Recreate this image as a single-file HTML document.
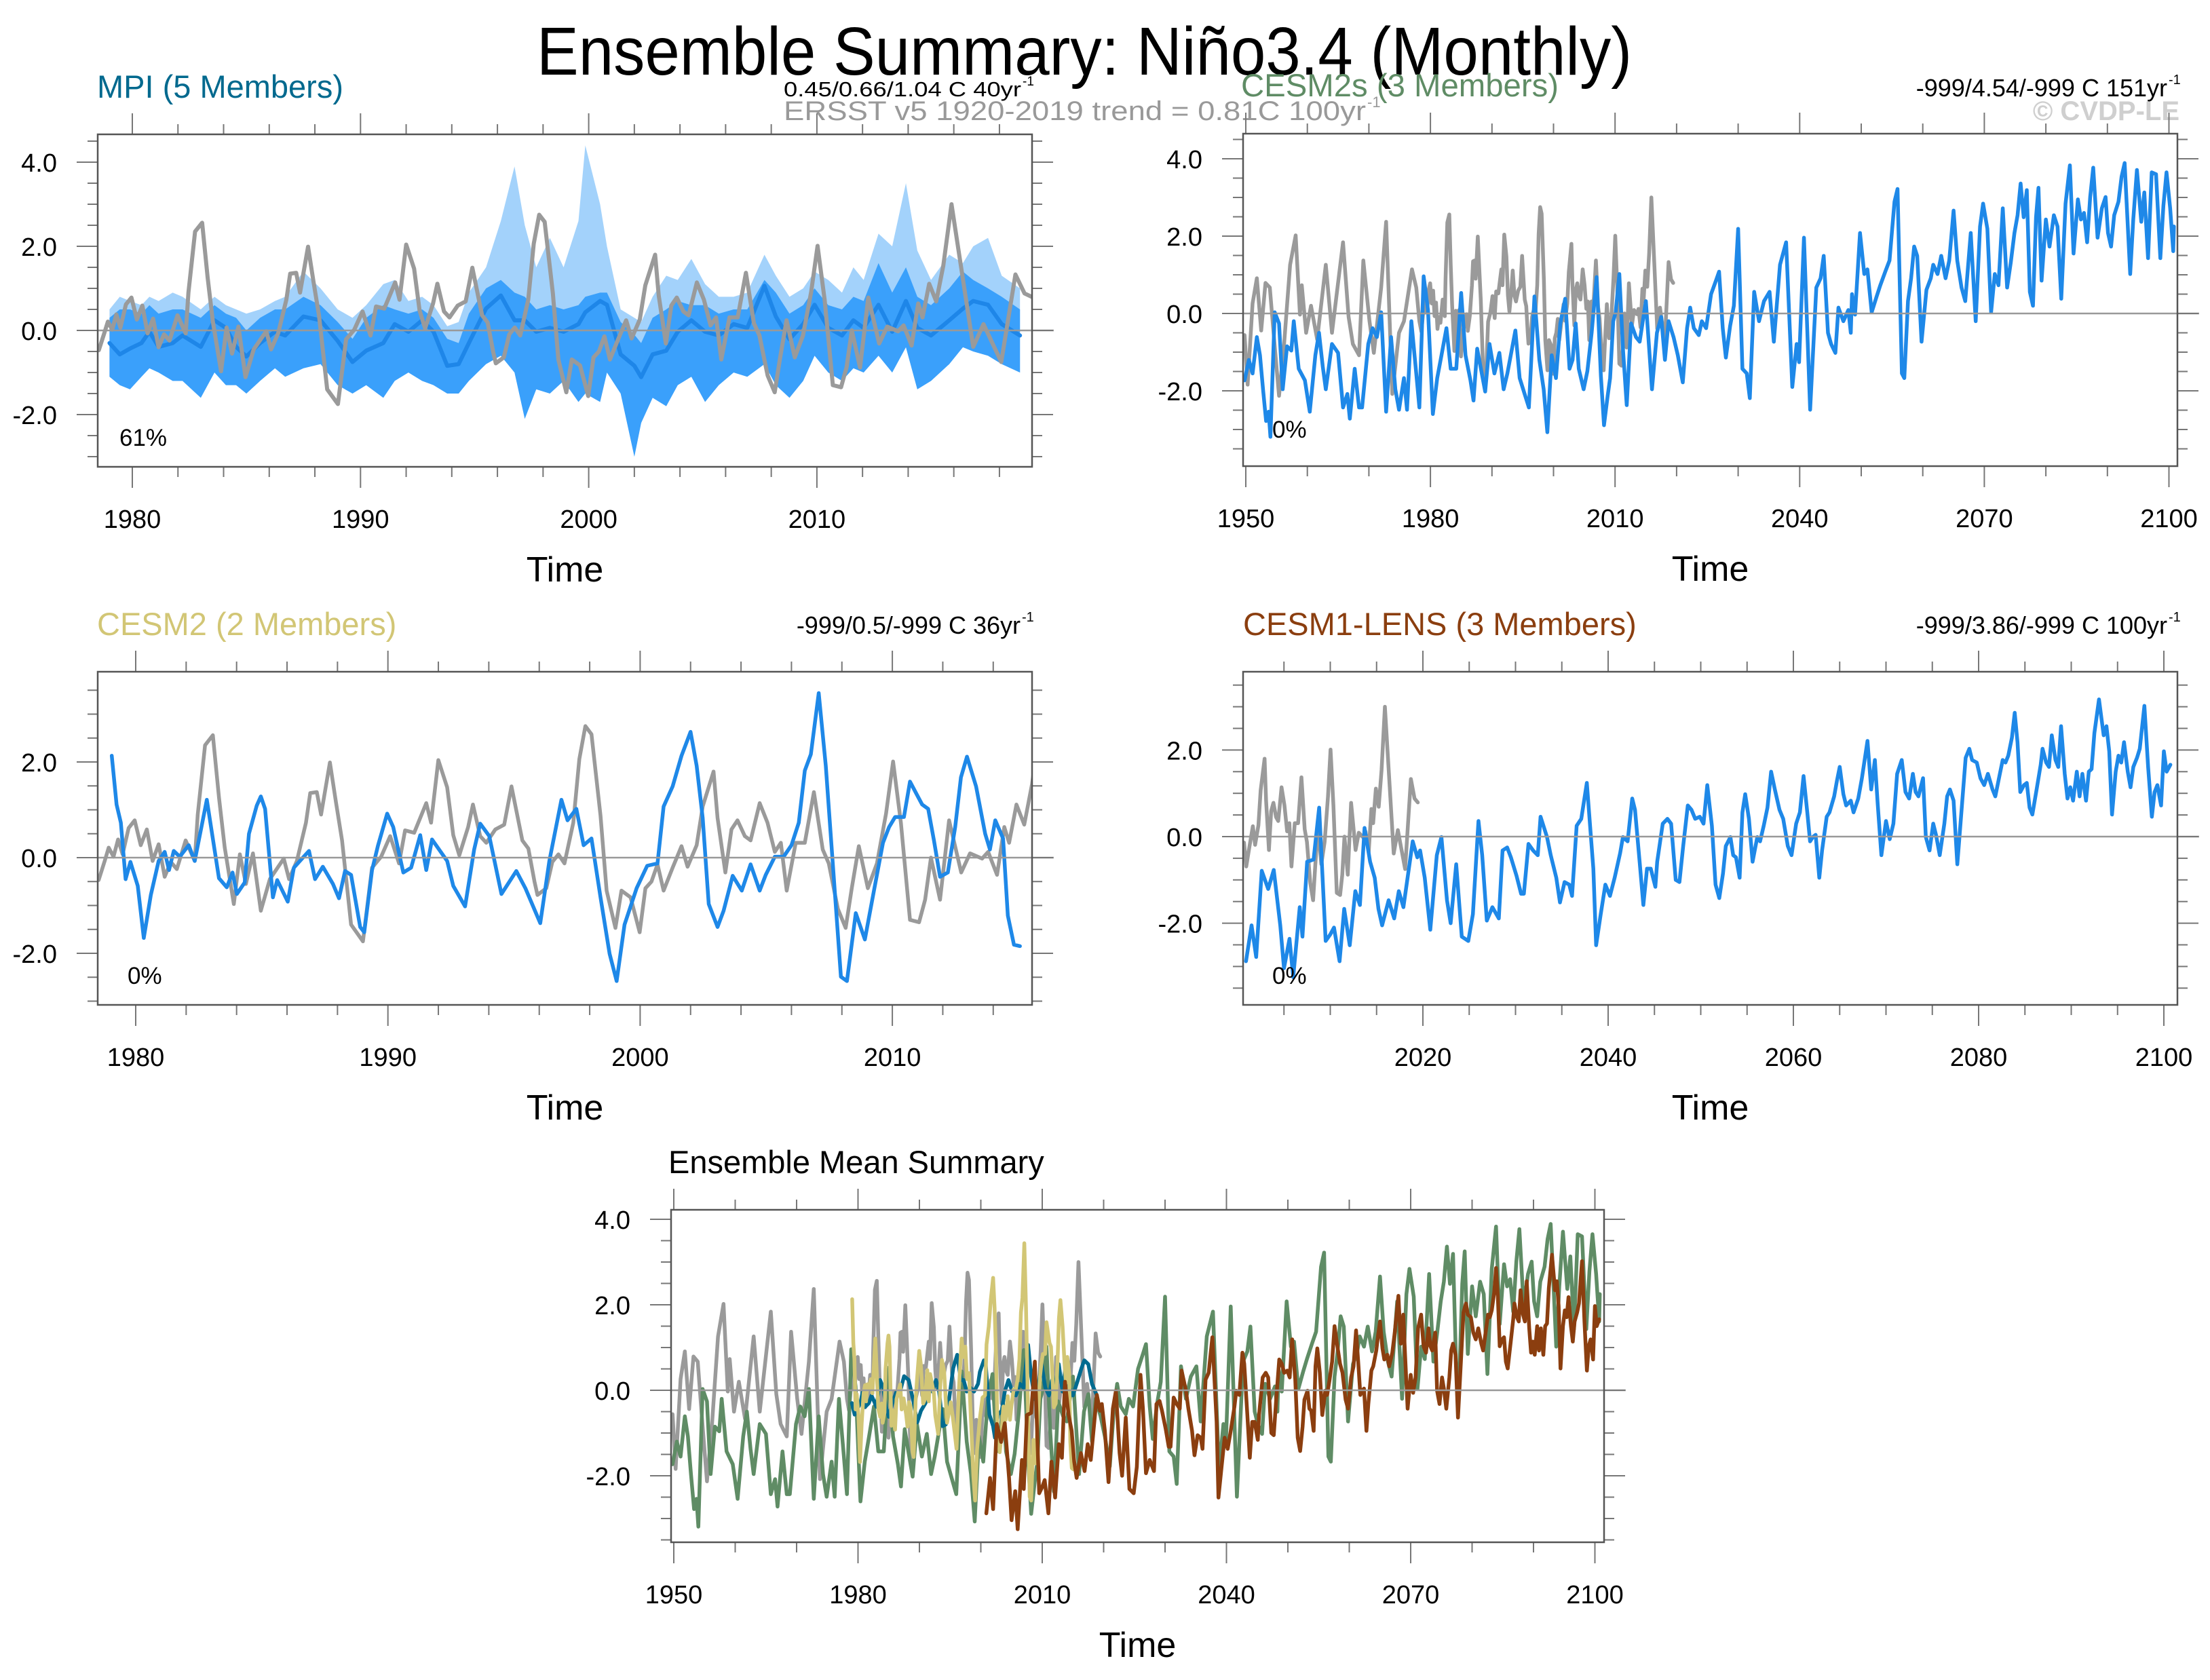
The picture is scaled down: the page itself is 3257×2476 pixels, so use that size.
<!DOCTYPE html>
<html><head><meta charset="utf-8"><title>Ensemble Summary: Niño3.4 (Monthly)</title>
<style>
html,body{margin:0;padding:0;background:#fff;}
svg{display:block;font-family:"Liberation Sans",Arial,sans-serif;}
</style></head>
<body>
<svg id="fig" xmlns="http://www.w3.org/2000/svg" width="3257" height="2476" viewBox="0 0 3257 2476">
<rect x="0" y="0" width="3257" height="2476" fill="#fff"/>
<text x="1598" y="110" font-size="100" text-anchor="middle" textLength="1614" lengthAdjust="spacingAndGlyphs">Ensemble Summary: Niño3.4 (Monthly)</text>

<text x="143" y="144" font-size="47" fill="#00698e">MPI (5 Members)</text>
<text x="1155" y="142" font-size="31" textLength="350" lengthAdjust="spacingAndGlyphs">0.45/0.66/1.04 C 40yr</text>
<text x="1507" y="126" font-size="19">-1</text>
<text x="1155" y="177" font-size="40" fill="#999" textLength="858" lengthAdjust="spacingAndGlyphs">ERSST v5 1920-2019 trend = 0.81C 100yr</text>
<text x="2015" y="158" font-size="22" fill="#999">-1</text>

<text x="1829" y="142" font-size="47" fill="#5f8c65" textLength="468" lengthAdjust="spacingAndGlyphs">CESM2s (3 Members)</text>
<text x="3194" y="142" font-size="36" text-anchor="end">-999/4.54/-999 C 151yr</text>
<text x="3196" y="124" font-size="20">-1</text>
<text x="3212" y="177" font-size="40" font-weight="bold" fill="#cfcfcf" text-anchor="end">© CVDP-LE</text>

<text x="143" y="936" font-size="47" fill="#d2c675">CESM2 (2 Members)</text>
<text x="1504" y="934" font-size="36" text-anchor="end">-999/0.5/-999 C 36yr</text>
<text x="1506" y="916" font-size="20">-1</text>

<text x="1832" y="936" font-size="47" fill="#8b3e0f">CESM1-LENS (3 Members)</text>
<text x="3194" y="934" font-size="36" text-anchor="end">-999/3.86/-999 C 100yr</text>
<text x="3196" y="916" font-size="20">-1</text>

<text x="985" y="1729" font-size="47">Ensemble Mean Summary</text>
</svg>
<script>
// ---------- DATA ----------
const ersstYear=[1949.8,1950.3,1951.1,1951.8,1952.5,1953.2,1953.9,1954.7,1955.4,1956.2,1957.2,1958.1,1958.8,1959.1,1959.8,1960.6,1961.6,1963.0,1964.0,1965.8,1966.7,1967.4,1968.4,1969.1,1970.1,1970.8,1972.0,1972.8,1973.8,1974.9,1975.7,1977.0,1977.7,1978.2,
1978.53,1978.77,1978.93,1979.12,1979.3,1979.48,1979.72,1979.96,1980.2,1980.44,1980.67,1980.91,1981.15,1981.39,1981.63,1981.98,1982.34,1982.46,1982.75,1983.06,1983.3,1983.53,1983.89,1984.13,1984.37,1984.65,1984.96,1985.32,1985.87,1986.08,1986.39,1986.75,1986.92,1987.18,1987.35,1987.7,1987.94,1988.18,1988.54,1989.01,1989.37,1989.73,1990.09,1990.44,1990.68,1991.04,1991.52,1991.71,1992.0,1992.35,1992.59,1992.83,1993.18,1993.37,1993.66,1993.9,1994.26,1994.61,1994.9,1995.33,1995.57,1995.81,1995.93,1996.28,1996.52,1996.76,1997.0,1997.35,1997.59,1997.83,1998.07,1998.43,1998.67,1999.02,1999.26,1999.62,1999.98,2000.21,2000.45,2000.69,2000.93,2001.29,2001.64,2001.88,2002.24,2002.48,2002.91,2003.07,2003.38,2003.62,2003.86,2004.15,2004.38,2004.74,2005.05,2005.34,2005.58,2005.81,2006.17,2006.53,2006.89,2007.24,2007.48,2007.84,2008.15,2008.39,2008.67,2009.03,2009.39,2009.75,2010.03,2010.34,2010.7,2011.06,2011.3,2011.53,2011.89,2012.25,2012.73,2013.08,2013.56,2013.8,2014.15,2014.44,2014.63,2014.92,2015.23,2015.54,2015.9,2016.85,2017.3,2018.08,2018.7,2019.1,2019.45];
const ersstVal=[-0.56,-1.84,0.26,0.91,-0.44,0.79,0.67,-0.85,-2.13,-0.85,1.26,2.02,-0.03,0.73,-0.5,0.2,-0.67,1.26,-0.5,1.84,-0.09,-0.79,-1.08,1.37,-0.2,-1.02,0.67,2.37,-2.08,-0.5,-0.2,1.14,0.67,-0.2,
-0.47,-0.07,0.21,0.02,0.38,0.07,0.62,0.78,0.26,0.59,-0.07,0.28,-0.4,-0.09,-0.24,0.36,-0.07,0.9,2.35,2.56,1.26,0.21,-0.97,0.07,-0.55,0.09,-1.11,-0.45,-0.02,-0.45,-0.07,0.73,1.35,1.37,0.9,1.99,1.16,0.36,-1.4,-1.75,-0.21,0.02,0.45,-0.12,0.57,0.52,1.14,0.73,2.04,1.47,0.47,0.05,0.64,1.11,0.45,0.31,0.59,0.69,1.49,0.36,0.19,-0.5,-0.78,-0.64,-0.09,0.07,-0.12,0.73,2.06,2.75,2.58,0.88,-0.69,-1.47,-0.69,-0.83,-1.56,-0.64,-0.5,-0.14,-0.69,-0.21,0.24,-0.19,0.26,1.07,1.8,0.83,-0.31,0.59,0.78,0.45,0.36,1.14,0.73,0.12,0.31,-0.69,0.31,0.31,1.37,0.17,-0.12,-1.07,-1.47,-0.64,0.24,-0.64,-0.12,0.92,2.01,0.73,-1.3,-1.35,-0.88,0.0,-0.88,0.78,-0.31,0.09,-0.02,0.12,-0.36,0.64,0.31,1.11,0.69,1.54,3.0,-0.39,0.15,-0.75,1.33,0.88,0.79];

const mpiYear=[1979.0,1979.45,1979.9,1980.4,1980.75,1981.15,1981.77,1982.2,1983.0,1983.6,1984.1,1984.55,1985.0,1985.6,1986.25,1986.7,1987.5,1988.25,1989.0,1989.65,1990.25,1991.0,1991.5,1992.1,1992.7,1993.2,1993.8,1994.3,1994.75,1995.5,1996.15,1996.75,1997.2,1997.7,1998.3,1998.9,1999.55,1999.85,2000.5,2000.8,2001.4,2002.0,2002.3,2002.8,2003.4,2003.9,2004.5,2005.1,2005.7,2006.35,2006.95,2007.7,2008.2,2008.8,2009.4,2009.9,2010.5,2011.1,2011.6,2012.05,2012.7,2013.3,2013.9,2014.4,2015.0,2015.8,2016.4,2016.85,2017.5,2018.1,2018.9];
const mpiMean=[-0.3,-0.57,-0.43,-0.3,-0.03,-0.39,-0.3,-0.12,-0.39,0.24,0.06,-0.39,-0.62,-0.3,-0.03,-0.12,0.33,0.24,-0.25,-0.75,-0.48,-0.3,0.15,-0.03,0.24,-0.03,-0.84,-0.8,-0.3,0.52,0.83,0.24,0.24,-0.03,0.06,-0.03,0.15,0.43,0.7,0.61,-0.57,-0.84,-1.11,-0.57,-0.48,-0.03,0.24,-0.03,-0.12,0.15,0.06,1.06,0.33,-0.21,0.15,0.61,0.06,-0.12,0.24,0.06,0.61,-0.03,0.7,0.06,-0.12,0.24,0.52,0.7,0.61,0.15,-0.12];
const mpiSpreadHi=[0.3,0.5,0.5,0.4,0.6,0.4,0.5,0.5,0.3,0.6,0.4,0.3,0.0,0.3,0.5,0.5,0.8,0.6,0.2,-0.2,0.3,0.6,0.5,0.4,0.5,0.3,-0.2,-0.3,0.4,1.0,1.2,0.9,0.8,0.5,0.6,0.5,0.6,0.8,0.9,0.9,0.2,-0.1,-0.3,0.3,0.5,0.7,0.6,0.6,0.4,0.5,0.5,1.2,0.9,0.4,0.6,1.0,0.6,0.5,0.8,0.7,1.6,0.9,1.5,0.8,0.6,1.0,1.4,1.2,1.0,0.8,0.5];
const mpiRangeHi=[0.5,0.8,0.7,0.6,0.8,0.7,0.9,0.8,0.5,0.8,0.6,0.5,0.4,0.5,0.7,0.8,1.4,1.0,0.5,0.3,0.6,1.1,1.2,0.7,0.8,0.6,0.1,0.2,0.9,1.5,2.6,3.9,2.5,1.5,2.2,1.5,2.6,4.4,3.0,2.0,0.5,0.3,0.2,0.8,1.3,1.2,1.7,1.1,0.8,0.8,0.9,1.8,1.3,0.8,1.0,1.4,1.2,0.9,1.5,1.2,2.3,2.0,3.5,1.9,1.2,1.8,1.6,2.0,2.2,1.3,1.0];
const mpiLo=[-1.1,-1.3,-1.4,-1.1,-0.9,-1.0,-1.2,-1.2,-1.6,-1.0,-1.3,-1.3,-1.5,-1.2,-0.9,-1.1,-0.9,-0.8,-1.3,-1.5,-1.3,-1.6,-1.2,-1.0,-1.2,-1.3,-1.5,-1.5,-1.2,-0.8,-0.6,-1.0,-2.1,-1.4,-1.5,-1.2,-1.7,-1.5,-1.7,-1.0,-1.5,-3.0,-2.2,-1.6,-1.8,-1.3,-1.1,-1.7,-1.3,-1.0,-1.1,-0.8,-1.3,-1.6,-1.2,-0.6,-1.0,-1.2,-0.9,-1.0,-0.6,-1.0,-0.4,-1.4,-1.2,-0.8,-0.4,-0.5,-0.6,-0.8,-1.0];

const cesm2Year=[1979.05,1979.24,1979.41,1979.6,1979.79,1980.08,1980.32,1980.6,1980.91,1981.15,1981.32,1981.51,1981.75,1982.1,1982.34,1982.82,1983.3,1983.61,1983.84,1984.01,1984.32,1984.49,1984.8,1984.96,1985.13,1985.44,1985.61,1986.03,1986.27,1986.63,1986.87,1987.11,1987.42,1987.82,1988.06,1988.3,1988.54,1988.9,1989.06,1989.37,1989.61,1989.97,1990.21,1990.61,1990.92,1991.28,1991.52,1991.75,1992.35,1992.59,1993.06,1993.42,1993.66,1994.02,1994.5,1995.09,1995.45,1996.04,1996.4,1996.88,1997.12,1997.47,1997.76,1998.07,1998.43,1998.79,1999.07,1999.38,1999.86,2000.28,2000.69,2000.93,2001.29,2001.64,2002.0,2002.24,2002.48,2002.72,2003.07,2003.31,2003.67,2004.03,2004.38,2004.74,2004.98,2005.34,2005.69,2006.0,2006.29,2006.53,2006.77,2007.08,2007.36,2007.72,2007.96,2008.2,2008.55,2008.91,2009.27,2009.63,2009.87,2010.11,2010.46,2010.7,2010.94,2011.18,2011.42,2011.65,2011.89,2012.2,2012.49,2012.72,2012.96,2013.32,2013.68,2013.87,2014.08,2014.39,2014.58,2014.82,2015.06];
const cesm2Val=[2.13,1.11,0.73,-0.45,-0.09,-0.59,-1.68,-0.78,-0.07,0.12,-0.26,0.14,0.02,0.26,-0.07,1.21,-0.43,-0.62,-0.31,-0.76,-0.52,0.5,1.09,1.28,1.02,-0.83,-0.47,-0.92,-0.21,0.0,0.14,-0.45,-0.19,-0.55,-0.85,-0.28,-0.36,-1.45,-1.56,-0.26,0.26,0.92,0.64,-0.31,-0.21,0.47,-0.26,0.38,-0.07,-0.59,-1.02,0.17,0.71,0.45,-0.76,-0.28,-0.64,-1.37,-0.07,1.21,0.78,1.02,0.26,0.4,-0.83,-2.01,-2.58,-1.4,-0.64,-0.17,-0.12,1.07,1.49,2.13,2.63,1.92,0.83,-0.97,-1.45,-1.11,-0.38,-0.69,-0.14,-0.69,-0.36,0.02,0.02,0.26,0.73,1.82,2.16,3.44,1.92,-0.73,-2.49,-2.58,-1.16,-1.71,-0.69,0.31,0.64,0.85,0.85,1.59,1.35,1.11,1.02,0.36,-0.4,-0.31,0.64,1.68,2.11,1.49,0.5,0.17,0.78,0.4,-1.21,-1.82,-1.85];

const cesm2sYear=[1949.8,1950.5,1951.1,1951.8,1952.3,1952.8,1953.3,1953.7,1954.0,1954.7,1955.4,1956.0,1956.7,1957.4,1957.8,1958.6,1959.6,1960.4,1961.3,1961.9,1962.5,1963.0,1964.0,1965.0,1965.8,1966.5,1966.9,1967.7,1968.4,1968.9,1969.9,1970.6,1971.3,1972.0,1972.8,1973.6,1974.3,1974.9,1975.7,1976.2,1976.9,1977.7,1978.2,1978.9,1979.6,1980.4,1981.1,1981.8,1982.6,1983.3,1984.2,1985.0,1985.7,1986.5,1987.0,1987.6,1988.2,1988.9,1989.6,1990.4,1991.2,1991.9,1992.5,1993.8,1994.5,1995.3,1996.0,1996.9,1997.7,1998.4,1999.0,1999.7,2000.4,2001.1,2001.9,2002.6,2003.1,2003.6,2004.1,2004.9,2005.5,2006.2,2007.0,2007.7,2008.2,2008.8,2009.2,2009.7,2010.1,2010.7,2011.3,2011.9,2012.6,2013.4,2014.0,2015.0,2016.0,2016.8,2017.5,2018.1,2018.7,2019.5,2020.2,2021.0,2021.7,2022.2,2022.8,2023.6,2024.1,2024.8,2025.6,2026.4,2026.9,2027.5,2028.0,2028.7,2029.3,2030.0,2030.7,2031.4,2031.9,2032.6,2033.4,2034.2,2035.1,2035.8,2036.8,2037.8,2038.8,2039.5,2039.9,2040.7,2041.7,2042.7,2043.4,2043.9,2044.6,2045.1,2045.8,2046.3,2047.1,2047.9,2048.3,2048.5,2049.0,2049.8,2050.5,2051.0,2051.7,2052.5,2053.1,2053.9,2054.6,2055.4,2055.9,2056.6,2057.0,2057.6,2058.1,2058.6,2059.1,2059.8,2060.6,2061.3,2061.7,2062.4,2063.0,2063.7,2064.3,2065.0,2065.6,2066.3,2066.9,2067.8,2068.6,2069.3,2069.8,2070.5,2071.1,2071.7,2072.3,2073.0,2073.7,2074.3,2074.9,2075.4,2075.9,2076.4,2076.9,2077.4,2077.9,2078.4,2078.8,2079.3,2080.0,2080.6,2081.3,2081.9,2082.5,2083.2,2083.9,2084.5,2085.2,2085.7,2086.2,2086.7,2087.2,2087.7,2088.4,2089.1,2089.7,2090.1,2090.6,2091.1,2091.8,2092.3,2092.8,2093.3,2093.7,2094.2,2094.8,2095.5,2096.0,2096.6,2097.2,2097.9,2098.6,2099.1,2099.6,2100.2,2100.7,2100.8];
const cesm2sVal=[-1.73,-1.2,-1.55,-0.61,-1.08,-1.96,-2.78,-2.54,-3.19,0.03,-0.26,-1.96,-0.85,-0.96,-0.2,-1.43,-1.73,-2.54,-1.08,-0.5,-1.37,-1.96,-0.79,-1.02,-2.43,-2.08,-2.72,-1.43,-2.43,-2.43,-0.79,-0.38,-0.61,0.03,-2.54,-0.61,-1.96,-2.49,-1.67,-2.49,-0.2,-1.55,-2.43,0.96,0.09,-2.6,-1.67,-1.08,-0.38,-1.43,-1.43,0.53,-1.08,-1.73,-2.25,-0.91,-1.43,-2.02,-0.79,-1.55,-1.02,-1.96,-1.55,-0.44,-1.67,-2.08,-2.43,0.44,-1.2,-1.96,-3.07,-1.08,-1.67,-0.26,0.38,-1.43,-1.2,-0.26,-1.43,-1.96,-1.49,-0.5,0.94,-1.61,-2.89,-2.13,-1.67,-0.2,0.03,1.02,-0.96,-2.37,-0.26,-0.61,-0.73,0.32,-1.96,-0.5,-0.09,-1.2,-0.2,-0.61,-1.08,-1.78,-0.38,0.15,-0.38,-0.56,-0.2,-0.38,0.5,0.85,1.08,-0.38,-1.14,-0.32,0.2,2.19,-1.43,-1.55,-2.19,0.56,-0.2,0.32,0.56,-0.73,1.26,1.84,-1.9,-0.79,-1.26,1.96,-2.49,0.67,0.91,1.49,-0.5,-0.79,-1.02,0.15,-0.2,0.09,-0.5,0.5,-0.03,2.08,1.02,1.14,0.03,0.44,0.73,1.08,1.37,2.89,3.22,-1.55,-1.67,0.32,0.91,1.73,1.49,-0.73,0.61,0.91,1.26,1.02,1.49,0.91,1.37,2.66,1.37,0.67,0.32,2.08,-0.2,2.25,2.84,2.19,0.03,1.02,0.73,2.72,0.67,1.32,2.08,2.54,3.36,2.49,3.19,0.56,0.2,2.49,3.25,0.85,2.43,1.73,2.54,2.25,0.38,2.84,3.83,1.55,2.95,2.43,2.6,1.84,3.01,3.77,1.96,2.72,3.01,2.08,1.73,2.54,2.89,3.54,3.89,2.31,1.02,2.43,3.71,2.37,3.13,1.43,3.65,3.6,1.43,2.78,3.65,2.72,1.61,2.25];

const cesm1Year=[2000.9,2001.5,2002.0,2002.6,2003.3,2003.9,2004.6,2005.0,2005.6,2006.0,2006.7,2007.0,2007.5,2008.2,2008.8,2009.5,2010.0,2010.4,2011.0,2011.5,2012.1,2012.7,2013.2,2013.7,2014.3,2014.8,2015.2,2015.6,2016.3,2016.9,2017.4,2017.9,2018.9,2019.4,2019.7,2020.2,2020.8,2021.5,2022.0,2022.6,2023.0,2023.6,2024.2,2024.9,2025.4,2026.0,2026.4,2026.9,2027.5,2028.2,2028.6,2029.1,2029.5,2030.1,2030.6,2030.9,2031.4,2031.9,2032.4,2032.7,2033.4,2033.8,2034.4,2034.8,2035.3,2035.8,2036.1,2036.6,2037.1,2037.7,2038.4,2038.7,2039.2,2039.7,2040.2,2040.7,2041.3,2041.6,2042.1,2042.6,2042.9,2043.4,2043.8,2044.2,2044.6,2045.1,2045.3,2045.9,2046.4,2046.8,2047.3,2047.7,2048.1,2048.6,2049.0,2049.4,2049.9,2050.3,2050.7,2051.2,2051.6,2052.0,2052.4,2052.7,2053.2,2053.5,2053.8,2054.2,2054.5,2054.8,2055.2,2055.6,2056.1,2056.4,2056.8,2057.2,2057.6,2058.0,2058.5,2058.9,2059.4,2059.8,2060.3,2060.7,2061.1,2061.5,2061.8,2062.1,2062.4,2062.8,2063.1,2063.6,2063.9,2064.4,2064.7,2065.0,2065.4,2065.7,2066.2,2066.5,2067.0,2067.4,2068.0,2068.4,2068.8,2069.1,2069.5,2070.0,2070.4,2070.8,2071.2,2071.7,2072.1,2072.5,2072.9,2073.2,2073.5,2074.0,2074.3,2074.7,2075.1,2075.4,2075.8,2076.3,2076.6,2076.9,2077.3,2077.7,2078.2,2078.6,2079.0,2079.3,2079.8,2080.2,2080.6,2081.0,2081.5,2081.8,2082.2,2082.6,2082.9,2083.2,2083.6,2083.9,2084.2,2084.5,2084.9,2085.2,2085.5,2085.8,2086.3,2086.7,2086.9,2087.3,2087.6,2087.9,2088.3,2088.6,2088.9,2089.3,2089.6,2089.9,2090.2,2090.6,2090.9,2091.2,2091.6,2091.9,2092.2,2092.5,2093.0,2093.5,2093.8,2094.1,2094.4,2094.8,2095.1,2095.4,2095.7,2096.1,2096.4,2096.7,2097.1,2097.4,2097.9,2098.3,2098.7,2099.0,2099.3,2099.7,2100.0,2100.3,2100.7];
const cesm1Val=[-2.88,-2.05,-2.78,-0.79,-1.21,-0.77,-2.05,-3.04,-2.36,-3.25,-1.63,-2.31,-0.58,-0.53,0.67,-2.41,-2.26,-2.1,-2.88,-1.67,-2.51,-1.26,-1.58,0.2,-0.58,-0.95,-1.67,-2.05,-1.47,-1.89,-1.26,-1.63,-0.11,-0.48,-0.32,-0.95,-2.15,-0.43,-0.01,-1.47,-2.0,-0.64,-2.31,-2.41,-1.79,0.36,-0.43,-1.94,-1.63,-1.89,-0.32,-0.25,-0.48,-0.9,-1.32,-1.32,-0.17,-0.32,-0.43,0.46,-0.01,-0.43,-0.95,-1.52,-1.05,-1.11,-1.37,0.25,0.41,1.24,-0.74,-2.51,-1.79,-1.11,-1.37,-0.95,-0.38,-0.01,-0.11,0.88,0.62,-0.58,-1.58,-0.74,-0.74,-1.16,-0.58,0.3,0.41,0.3,-1.0,-1.05,-0.22,0.72,0.62,0.41,0.46,0.3,1.19,0.25,-1.11,-1.42,-0.85,-0.22,-0.01,-0.43,-0.48,-0.95,0.56,0.98,0.41,-0.58,-0.01,-0.11,0.25,0.67,1.5,1.09,0.62,0.41,-0.22,-0.43,0.3,0.56,1.4,0.56,-0.11,-0.01,0.04,-0.95,-0.32,0.46,0.56,0.93,1.29,1.61,0.98,0.72,0.83,0.56,0.88,1.35,2.21,1.09,1.77,0.77,-0.43,0.36,-0.06,0.3,1.45,1.77,1.03,0.88,1.45,1.03,0.93,1.35,-0.01,-0.32,0.3,0.04,-0.43,0.3,0.93,1.09,0.83,-0.64,0.72,1.82,2.03,1.77,1.71,1.35,1.19,1.45,1.09,0.93,1.35,1.77,1.71,1.87,2.29,2.86,2.18,1.03,1.19,1.24,0.67,0.51,1.14,1.66,2.03,1.71,1.61,2.34,1.77,1.61,2.55,1.45,0.88,1.14,0.83,1.5,0.93,1.45,0.83,1.5,1.56,2.39,3.17,2.34,2.55,1.97,0.51,1.5,1.87,1.71,2.18,1.5,1.14,1.61,1.82,2.03,3.02,1.61,0.46,1.03,1.19,0.72,1.97,1.5,1.66];

const yTickLabelsA=["-2.0","0.0","2.0","4.0"];
const yTickValsA=[-2,0,2,4];
const yTickLabelsB=["-2.0","0.0","2.0"];
const yTickValsB=[-2,0,2];

// ---------- DRAWING ----------
const NS="http://www.w3.org/2000/svg";
const svg=document.getElementById('fig');
function mk(tag,attrs,parent){const e=document.createElementNS(NS,tag);for(const k in attrs)e.setAttribute(k,attrs[k]);(parent||svg).appendChild(e);return e;}

function panel(id,g){
  const grp=mk('g',{});
  
  
  g.grp=grp;
  g.X=y=>g.xA+(y-g.yA)*g.k;
  g.Y=v=>g.zero-v*g.u;
  const cp=mk('clipPath',{id:id+'-clip'},grp);
  mk('rect',{x:g.x0,y:g.y0,width:g.x1-g.x0,height:g.y1-g.y0},cp);
  g.plot=mk('g',{'clip-path':'url(#'+id+'-clip)'},grp);
  
  
  return g;
}
function finishAxes(id,g,ax){
  const grp=g.grp;
  const zl=mk('line',{x1:g.x0,x2:g.x1+32,y1:g.Y(0),y2:g.Y(0),stroke:'#999',"stroke-width":2.5},grp);
  
  
  const ticks=mk('g',{stroke:'#777',"stroke-width":2},grp);
  
  
  for(let yr=ax.xmin0;yr<=ax.xmax0;yr+=ax.xminStep){
    const x=g.X(yr); if(x<g.x0-1||x>g.x1+1)continue;
    const major=((yr-ax.xmaj0)%ax.xmajStep+ax.xmajStep)%ax.xmajStep===0;
    const L=major?31:15;
    mk('line',{x1:x,x2:x,y1:g.y1,y2:g.y1+L},ticks);
    mk('line',{x1:x,x2:x,y1:g.y0,y2:g.y0-L},ticks);
  }
  for(let i=Math.round(ax.ymin*2);i<=Math.round(ax.ymax*2);i++){
    const v=i/2,y=g.Y(v); if(y<g.y0||y>g.y1)continue;
    const L=(i%4===0)?31:15;
    mk('line',{x1:g.x0,x2:g.x0-L,y1:y,y2:y},ticks);
    mk('line',{x1:g.x1,x2:g.x1+L,y1:y,y2:y},ticks);
  }
  const fr=mk('rect',{x:g.x0,y:g.y0,width:g.x1-g.x0,height:g.y1-g.y0,fill:'none',stroke:'#555',"stroke-width":2.5},grp);
  
  
  ax.ylabVals.forEach((v,i)=>{
    const t=mk('text',{x:g.x0-60,y:g.Y(v)+14,"font-size":38,"text-anchor":"end"},grp);
    t.textContent=ax.ylabs[i];
    
    
  });
  for(let yr=ax.xmaj0;yr<=ax.xmax0;yr+=ax.xmajStep){
    const x=g.X(yr); if(x<g.x0-1||x>g.x1+1)continue;
    const t=mk('text',{x:x,y:g.y1+90,"font-size":38,"text-anchor":"middle"},grp);
    t.textContent=String(yr);
    
    
  }
  const tt=mk('text',{x:(g.x0+g.x1)/2,y:g.y1+169,"font-size":52,"text-anchor":"middle"},grp);
  tt.textContent='Time';
  
  
  if(ax.pct){
    const p=mk('text',{x:ax.pct[0],y:ax.pct[1],"font-size":35},grp);
    p.textContent=ax.pct[2];
    
    
  }
}
function line(g,name,xs,vs,color,w){
  const d=xs.map((t,i)=>(i?'L':'M')+g.X(t).toFixed(1)+' '+g.Y(vs[i]).toFixed(1)).join('');
  const p=mk('path',{d:d,fill:'none',stroke:color,"stroke-width":w,"stroke-linejoin":"round","stroke-linecap":"round"},g.plot);
  
  
}
function band(g,name,xs,hi,lo,color){
  let d=xs.map((t,i)=>(i?'L':'M')+g.X(t).toFixed(1)+' '+g.Y(hi[i]).toFixed(1)).join('');
  for(let i=xs.length-1;i>=0;i--)d+='L'+g.X(xs[i]).toFixed(1)+' '+g.Y(lo[i]).toFixed(1);
  const p=mk('path',{d:d+'Z',fill:color,stroke:'none'},g.plot);
  
  
}
const BLUE='#1e88e8',GRAY='#9a9a9a';

// Panel 1 MPI
const p1=panel('mpi',{x0:144,x1:1521,y0:198,y1:688,xA:195,yA:1980,k:33.63,zero:487,u:62});
band(p1,'mpi-range-band',mpiYear,mpiRangeHi,mpiLo,'#a3d2fb');
band(p1,'mpi-spread-band',mpiYear,mpiSpreadHi,mpiLo,'#3aa0fb');
line(p1,'mpi-ensemble-mean-line',mpiYear,mpiMean,'#1e86e8',6);
line(p1,'mpi-ersst-line',ersstYear,ersstVal,GRAY,6);
finishAxes('mpi',p1,{xmin0:1970,xmax0:2020,xminStep:2,xmaj0:1980,xmajStep:10,ymin:-3.5,ymax:4.5,ylabs:yTickLabelsA,ylabVals:yTickValsA,pct:[176,657,'61%']});

// Panel 2 CESM2s
const p2=panel('cesm2s',{x0:1832,x1:3209,y0:197,y1:687,xA:1836,yA:1950,k:9.07,zero:462,u:57});
line(p2,'cesm2s-ersst-line',ersstYear,ersstVal,GRAY,5.5);
line(p2,'cesm2s-line',cesm2sYear,cesm2sVal,BLUE,5.5);
finishAxes('cesm2s',p2,{xmin0:1950,xmax0:2100,xminStep:10,xmaj0:1950,xmajStep:30,ymin:-4,ymax:4.5,ylabs:yTickLabelsA,ylabVals:yTickValsA,pct:[1875,645,'0%']});

// Panel 3 CESM2
const p3=panel('cesm2',{x0:144,x1:1521,y0:990,y1:1481,xA:200,yA:1980,k:37.17,zero:1264,u:70.5});
line(p3,'cesm2-ersst-line',ersstYear,ersstVal,GRAY,5.5);
line(p3,'cesm2-line',cesm2Year,cesm2Val,BLUE,5.5);
finishAxes('cesm2',p3,{xmin0:1970,xmax0:2016,xminStep:2,xmaj0:1980,xmajStep:10,ymin:-3,ymax:3.5,ylabs:yTickLabelsB,ylabVals:yTickValsB,pct:[188,1450,'0%']});

// Panel 4 CESM1-LENS
const p4=panel('cesm1',{x0:1832,x1:3209,y0:990,y1:1481,xA:2097,yA:2020,k:13.65,zero:1233,u:63.8});
line(p4,'cesm1-ersst-line',ersstYear,ersstVal,GRAY,5.5);
line(p4,'cesm1-line',cesm1Year,cesm1Val,BLUE,5.5);
finishAxes('cesm1',p4,{xmin0:2000,xmax0:2100,xminStep:5,xmaj0:2020,xmajStep:20,ymin:-3.5,ymax:3.5,ylabs:yTickLabelsB,ylabVals:yTickValsB,pct:[1875,1450,'0%']});

// Panel 5 Ensemble mean summary
const p5=panel('ens-mean',{x0:989,x1:2364,y0:1783,y1:2273,xA:993,yA:1950,k:9.05,zero:2049,u:63});
line(p5,'mean-ersst-line',ersstYear,ersstVal,GRAY,5.5);
line(p5,'mean-cesm2s-line',cesm2sYear,cesm2sVal,'#5f8c65',5.5);
line(p5,'mean-mpi-line',mpiYear,mpiMean,'#006b90',5.5);
line(p5,'mean-cesm2-line',cesm2Year,cesm2Val,'#d2c675',5.5);
line(p5,'mean-cesm1-line',cesm1Year,cesm1Val,'#8b3e0f',5.5);
finishAxes('ens-mean',p5,{xmin0:1950,xmax0:2100,xminStep:10,xmaj0:1950,xmajStep:30,ymin:-3.5,ymax:4,ylabs:yTickLabelsA,ylabVals:yTickValsA,pct:null});
</script>
</body></html>
